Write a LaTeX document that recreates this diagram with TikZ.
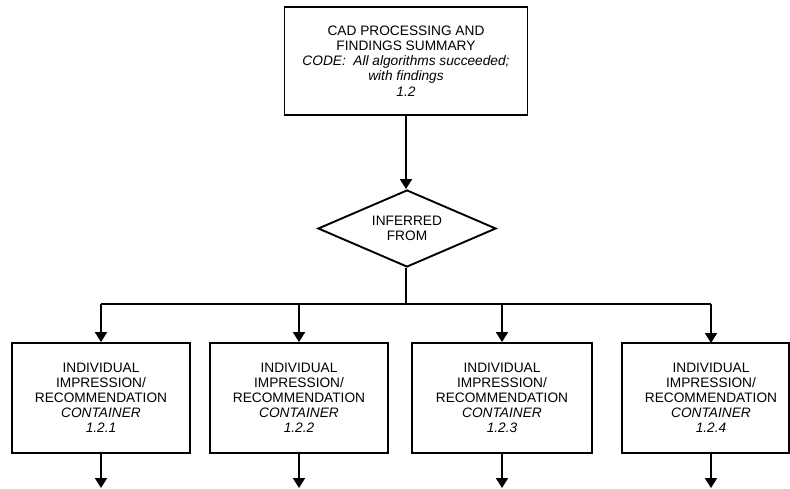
\documentclass[tikz,border=0pt]{standalone}
\usepackage{fontspec}
\setmainfont{Liberation Sans}
\usetikzlibrary{shapes.geometric,arrows.meta}
\tikzset{
  box/.style={draw, line width=1.9pt, rectangle, align=center, inner sep=0pt,
    font=\fontsize{13.7}{15}\selectfont},
  decision/.style={draw, line width=1.9pt, diamond, align=center, inner sep=0pt,
    shape aspect=2.3, minimum width=178pt, minimum height=77pt,
    font=\fontsize{13.7}{15}\selectfont},
  conn/.style={line width=1.9pt},
  arr/.style={line width=1.9pt, -{Triangle[width=12pt,length=10pt]}}
}
\begin{document}
\begin{tikzpicture}[x=1pt,y=-1pt]
\useasboundingbox (0,0) rectangle (790,489);
\node[box, minimum width=243pt, minimum height=108pt] (top) at (406,61)
  {CAD PROCESSING AND\\FINDINGS SUMMARY\\\textit{CODE:\ \ All algorithms succeeded;}\\\textit{with findings}\\[1pt]\textit{1.2}};
\node[decision] (dec) at (407,228.5) {INFERRED\\FROM};
\node[box, minimum width=178pt, minimum height=110pt] (b1) at (101,398)
  {INDIVIDUAL\\IMPRESSION/\\RECOMMENDATION\\\textit{CONTAINER}\\\textit{1.2.1}};
\node[box, minimum width=178pt, minimum height=110pt] (b2) at (299,398)
  {INDIVIDUAL\\IMPRESSION/\\RECOMMENDATION\\\textit{CONTAINER}\\\textit{1.2.2}};
\node[box, minimum width=180pt, minimum height=110pt] (b3) at (502,398)
  {INDIVIDUAL\\IMPRESSION/\\RECOMMENDATION\\\textit{CONTAINER}\\\textit{1.2.3}};
\node[box, draw=none, outer sep=0pt, minimum width=178pt, minimum height=110pt] (b4) at (711,398)
  {INDIVIDUAL\\IMPRESSION/\\RECOMMENDATION\\\textit{CONTAINER}\\\textit{1.2.4}};
\draw[line width=1.9pt] (b4.south west) rectangle ([xshift=-11pt]b4.north east);
\coordinate (split) at (406,304);
\coordinate (e1) at (101,488);
\coordinate (e2) at (299,488);
\coordinate (e3) at (502,488);
\coordinate (e4) at (711,488);
\draw[arr] (top.south) -- (top.south |- dec.north);
\draw[conn] (top.south |- dec.south) -- (split);
\draw[conn] (b1.north |- split) -- (b4.north |- split);
\foreach \b in {b1,b2,b3,b4} {
  \draw[arr] (\b.north |- split) -- (\b.north);
}
\draw[arr] (b1.south) -- (e1);
\draw[arr] (b2.south) -- (e2);
\draw[arr] (b3.south) -- (e3);
\draw[arr] (b4.south) -- (e4);
\end{tikzpicture}
\end{document}
